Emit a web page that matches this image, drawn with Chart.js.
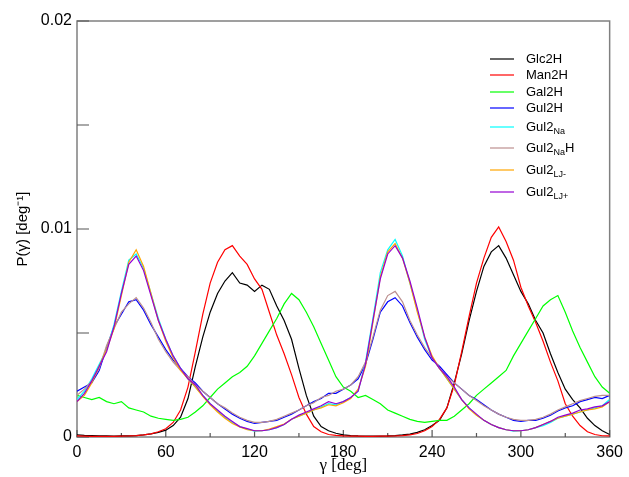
<!DOCTYPE html>
<html>
<head>
<meta charset="utf-8">
<script src="https://cdn.jsdelivr.net/npm/chart.js@4/dist/chart.umd.min.js"></script>
<style>
  body { margin: 0; background: #fff; }
  #wrap { position: relative; width: 629px; height: 477px; }
</style>
</head>
<body>
<div id="wrap"><canvas id="chart"></canvas></div>
<script>
// dihedral angle gamma, degrees
const gamma = [0, 5, 10, 15, 20, 25, 30, 35, 40, 45, 50, 55, 60, 65, 70, 75, 80, 85, 90, 95,
  100, 105, 110, 115, 120, 125, 130, 135, 140, 145, 150, 155, 160, 165, 170, 175, 180, 185, 190, 195,
  200, 205, 210, 215, 220, 225, 230, 235, 240, 245, 250, 255, 260, 265, 270, 275, 280, 285, 290, 295,
  300, 305, 310, 315, 320, 325, 330, 335, 340, 345, 350, 355, 360];

// P(gamma) in units of 1e-3 deg^-1
const glc2H = [0.10, 0.08, 0.07, 0.05, 0.05, 0.04, 0.05, 0.05, 0.07, 0.10, 0.15, 0.22, 0.33, 0.55, 0.95, 1.85, 3.4, 4.8, 6.0, 6.9,
  7.5, 7.9, 7.4, 7.3, 7.0, 7.3, 7.1, 6.3, 5.6, 4.7, 3.3, 2.0, 1.0, 0.5, 0.3, 0.18, 0.10, 0.07, 0.05, 0.04,
  0.04, 0.04, 0.05, 0.07, 0.10, 0.14, 0.22, 0.35, 0.55, 0.8, 1.4, 2.6, 4.0, 5.6, 7.0, 8.2, 8.9, 9.2, 8.6, 7.8,
  7.0, 6.4, 5.6, 5.0, 4.0, 3.1, 2.3, 1.8, 1.4, 0.9, 0.55, 0.3, 0.12];
const man2H = [0.05, 0.04, 0.03, 0.03, 0.03, 0.03, 0.04, 0.05, 0.07, 0.10, 0.15, 0.25, 0.40, 0.7, 1.3, 2.4, 4.1, 5.9, 7.4, 8.4,
  9.0, 9.2, 8.7, 8.3, 7.6, 7.1, 6.0, 4.9, 4.0, 3.0, 1.9, 1.1, 0.5, 0.25, 0.12, 0.08, 0.05, 0.04, 0.04, 0.03,
  0.03, 0.04, 0.04, 0.05, 0.07, 0.10, 0.17, 0.30, 0.50, 0.85, 1.4, 2.5, 4.1, 5.8, 7.4, 8.6, 9.6, 10.1, 9.4, 8.5,
  7.2, 6.3, 5.5, 4.6, 3.6, 2.7, 1.6, 1.0, 0.55, 0.25, 0.12, 0.06, 0.05];
const gal2H = [2.0, 1.9, 1.8, 1.9, 1.7, 1.6, 1.7, 1.4, 1.3, 1.2, 1.0, 0.9, 0.85, 0.8, 0.85, 0.95, 1.2, 1.5, 1.9, 2.3,
  2.6, 2.9, 3.1, 3.4, 3.9, 4.5, 5.1, 5.7, 6.4, 6.9, 6.6, 6.0, 5.3, 4.5, 3.7, 2.9, 2.4, 2.2, 1.9, 2.0,
  1.8, 1.6, 1.3, 1.15, 1.0, 0.85, 0.75, 0.7, 0.75, 0.8, 0.8, 1.0, 1.3, 1.6, 2.0, 2.3, 2.6, 2.9, 3.2, 3.9,
  4.5, 5.1, 5.7, 6.3, 6.6, 6.8, 6.0, 5.1, 4.3, 3.6, 2.9, 2.4, 2.1];
const gul2H = [2.2, 2.4, 2.6, 3.2, 4.3, 5.3, 5.9, 6.5, 6.6, 6.1, 5.4, 4.8, 4.2, 3.7, 3.3, 2.9, 2.6, 2.2, 1.9, 1.6,
  1.35, 1.1, 0.9, 0.75, 0.65, 0.7, 0.75, 0.8, 0.95, 1.1, 1.3, 1.5, 1.7, 1.85, 2.1, 2.1, 2.3, 2.5, 2.8, 3.5,
  4.7, 6.0, 6.5, 6.7, 6.3, 5.5, 4.8, 4.2, 3.7, 3.4, 3.0, 2.6, 2.3, 2.0, 1.8, 1.55, 1.3, 1.1, 0.95, 0.8,
  0.75, 0.8, 0.8, 0.9, 1.05, 1.25, 1.4, 1.5, 1.7, 1.8, 1.9, 1.85, 2.0];
const gul2Na = [1.8, 2.2, 2.8, 3.5, 4.2, 5.4, 7.0, 8.5, 8.8, 8.1, 6.9, 5.7, 4.7, 3.9, 3.3, 2.8, 2.4, 2.0, 1.6, 1.25,
  0.95, 0.7, 0.5, 0.38, 0.28, 0.3, 0.35, 0.45, 0.6, 0.85, 1.0, 1.15, 1.3, 1.45, 1.6, 1.55, 1.7, 1.9, 2.2, 3.6,
  5.7, 7.9, 9.0, 9.5, 8.7, 7.4, 6.1, 4.7, 3.8, 3.3, 2.8, 2.3, 1.8, 1.4, 1.05, 0.8, 0.6, 0.45, 0.35, 0.28,
  0.3, 0.35, 0.45, 0.55, 0.7, 0.9, 1.0, 1.1, 1.2, 1.3, 1.4, 1.5, 1.8];
const gul2NaH = [2.0, 2.3, 2.7, 3.3, 4.4, 5.2, 6.0, 6.4, 6.7, 6.2, 5.5, 4.7, 4.1, 3.6, 3.2, 2.9, 2.5, 2.2, 1.9, 1.6,
  1.4, 1.15, 0.95, 0.8, 0.7, 0.7, 0.75, 0.85, 1.0, 1.15, 1.3, 1.5, 1.65, 1.9, 2.0, 2.2, 2.3, 2.5, 2.9, 3.6,
  4.8, 6.1, 6.8, 7.0, 6.5, 5.6, 4.9, 4.3, 3.8, 3.3, 2.9, 2.6, 2.3, 2.0, 1.75, 1.5, 1.3, 1.1, 0.95, 0.85,
  0.8, 0.8, 0.85, 0.95, 1.1, 1.3, 1.45, 1.6, 1.75, 1.85, 1.95, 2.0, 2.0];
const gul2LJm = [1.7, 2.0, 2.6, 3.4, 4.2, 5.2, 6.8, 8.4, 9.0, 8.2, 6.9, 5.6, 4.6, 3.8, 3.2, 2.8, 2.4, 1.95, 1.55, 1.2,
  0.9, 0.65, 0.48, 0.35, 0.3, 0.3, 0.38, 0.5, 0.62, 0.85, 1.0, 1.15, 1.3, 1.4, 1.55, 1.5, 1.65, 1.85, 2.3, 3.4,
  5.5, 7.7, 8.9, 9.3, 8.6, 7.4, 6.0, 4.8, 3.9, 3.3, 2.8, 2.3, 1.8, 1.35, 1.05, 0.8, 0.6, 0.45, 0.35, 0.3,
  0.3, 0.35, 0.45, 0.6, 0.75, 0.9, 1.0, 1.1, 1.2, 1.3, 1.35, 1.45, 1.7];
const gul2LJp = [1.7, 2.1, 2.7, 3.4, 4.1, 5.3, 6.9, 8.3, 8.7, 8.0, 6.8, 5.6, 4.7, 3.9, 3.3, 2.8, 2.5, 2.0, 1.6, 1.3,
  1.0, 0.75, 0.5, 0.4, 0.3, 0.3, 0.35, 0.45, 0.6, 0.85, 1.05, 1.2, 1.35, 1.5, 1.7, 1.6, 1.7, 1.9, 2.2, 3.5,
  5.6, 7.6, 8.8, 9.2, 8.6, 7.5, 6.2, 4.8, 3.8, 3.3, 2.9, 2.4, 1.8, 1.4, 1.1, 0.8, 0.6, 0.45, 0.35, 0.3,
  0.3, 0.35, 0.45, 0.6, 0.75, 0.95, 1.05, 1.15, 1.3, 1.35, 1.45, 1.5, 1.7];

const unit = 1e-3;
const seriesValues = [glc2H, man2H, gal2H, gul2H, gul2Na, gul2NaH, gul2LJm, gul2LJp];
// _{...} marks a subscript
const seriesLabels = ['Glc2H', 'Man2H', 'Gal2H', 'Gul2H', 'Gul2_{Na}', 'Gul2_{Na}H', 'Gul2_{LJ-}', 'Gul2_{LJ+}'];
const seriesColors = ['#000000', '#ff0000', '#00ff00', '#0000ff', '#00ffff', 'rgb(188,143,143)', '#ffa500', 'rgb(148,0,211)'];

const xTicks = [0, 60, 120, 180, 240, 300, 360];
const yTicks = [0, 0.01, 0.02];

const datasets = seriesValues.map((vals, i) => ({
  label: seriesLabels[i],
  data: vals.map((v, k) => ({ x: gamma[k], y: v * unit })),
  borderColor: seriesColors[i],
  borderWidth: 1.2,
  pointRadius: 0,
  tension: 0,
  fill: false,
  order: seriesValues.length - i
}));

function near(list, v, eps) {
  return list.some(t => Math.abs(t - v) < eps);
}

// box around the plot with inward ticks on the bottom and left sides
const frame = {
  id: 'frame',
  beforeDatasetsDraw(chart) {
    const { ctx, chartArea: a, scales } = chart;
    ctx.save();
    ctx.strokeStyle = '#808080';
    ctx.lineWidth = 1.5;
    ctx.strokeRect(a.left, a.top, a.right - a.left, a.bottom - a.top);
    ctx.strokeStyle = '#555';
    ctx.lineWidth = 1.2;
    ctx.beginPath();
    scales.x.ticks.forEach(t => {
      const px = scales.x.getPixelForValue(t.value);
      const len = near(xTicks, t.value, 1e-6) ? 7 : 4;
      ctx.moveTo(px, a.bottom);
      ctx.lineTo(px, a.bottom - len);
    });
    scales.y.ticks.forEach(t => {
      const py = scales.y.getPixelForValue(t.value);
      ctx.moveTo(a.left, py);
      ctx.lineTo(a.left + 12, py);
    });
    ctx.stroke();
    ctx.restore();
  }
};

// legend with subscripted names
const subLegend = {
  id: 'subLegend',
  afterDraw(chart) {
    const { ctx } = chart;
    const rows = [59, 75, 92, 108, 127, 148, 170, 192];
    ctx.save();
    ctx.textBaseline = 'middle';
    seriesLabels.forEach((label, i) => {
      const y = rows[i];
      ctx.strokeStyle = seriesColors[i];
      ctx.lineWidth = 1.2;
      ctx.beginPath();
      ctx.moveTo(490, y);
      ctx.lineTo(514, y);
      ctx.stroke();
      let x = 526;
      ctx.fillStyle = '#000';
      label.split(/(_\{[^}]*\})/).forEach(part => {
        if (!part) return;
        if (part.startsWith('_{')) {
          const s = part.slice(2, -1);
          ctx.font = '9px "Liberation Sans", Arial, sans-serif';
          ctx.fillText(s, x, y + 5);
          x += ctx.measureText(s).width;
        } else {
          ctx.font = '13px "Liberation Sans", Arial, sans-serif';
          ctx.fillText(part, x, y);
          x += ctx.measureText(part).width;
        }
      });
    });
    ctx.restore();
  }
};

new Chart(document.getElementById('chart'), {
  type: 'line',
  data: { datasets },
  options: {
    responsive: true,
    maintainAspectRatio: false,
    animation: false,
    layout: { autoPadding: false, padding: { left: 0, right: 15, top: 21, bottom: 0 } },
    plugins: { legend: { display: false }, tooltip: { enabled: false } },
    scales: {
      x: {
        type: 'linear',
        min: 0,
        max: 360,
        grid: { display: false, drawTicks: false },
        border: { display: false },
        ticks: {
          stepSize: 30,
          padding: 6,
          color: '#000',
          font: { family: '"Liberation Sans", Arial, sans-serif', size: 16 },
          maxRotation: 0,
          autoSkip: false,
          callback: v => near(xTicks, v, 1e-6) ? String(v) : ''
        },
        title: {
          display: true,
          text: 'γ [deg]',
          color: '#000',
          font: { family: '"Liberation Serif", "Times New Roman", serif', size: 17 },
          padding: { top: 0, bottom: 1 }
        },
        afterFit(scale) { scale.height = 40; }
      },
      y: {
        type: 'linear',
        min: 0,
        max: 0.02,
        grid: { display: false, drawTicks: false },
        border: { display: false },
        ticks: {
          stepSize: 0.005,
          padding: 5,
          color: '#000',
          font: { family: '"Liberation Sans", Arial, sans-serif', size: 16 },
          autoSkip: false,
          callback: v => near(yTicks, v, 1e-9) ? (v === 0 ? '0' : v.toFixed(2)) : ''
        },
        title: {
          display: true,
          text: 'P(γ) [deg⁻¹]',
          color: '#000',
          font: { family: '"Liberation Sans", Arial, sans-serif', size: 15 },
          padding: { top: 14, bottom: 0 }
        },
        afterFit(scale) { scale.width = 77; }
      }
    }
  },
  plugins: [frame, subLegend]
});
</script>
</body>
</html>
